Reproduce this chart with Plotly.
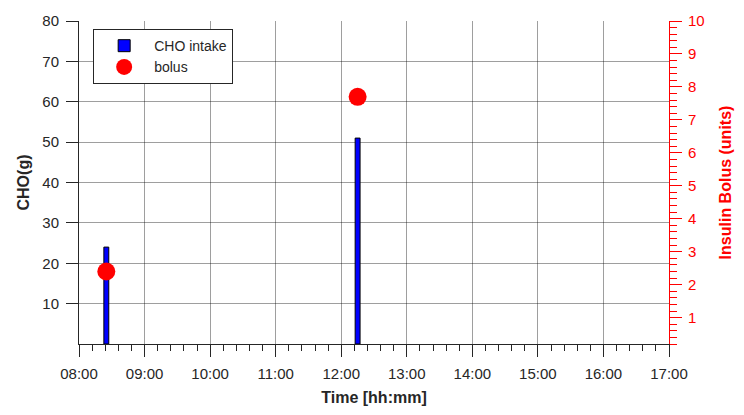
import plotly.graph_objects as go

# Data
cho_times = ["2020-01-01 08:25", "2020-01-01 12:15"]
cho_values = [24, 51]
bolus_times = ["2020-01-01 08:25", "2020-01-01 12:15"]
bolus_values = [2.4, 7.7]

x_range = ["2020-01-01 08:00", "2020-01-01 17:00"]
left_range = [0, 80]
right_range = [0.2, 10]

FONT = "Liberation Sans, Arial, sans-serif"
TXT = "#262626"
GRID = "rgba(0,0,0,0.38)"

fig = go.Figure()
fig.add_trace(go.Bar(
    x=cho_times, y=cho_values, name="CHO intake",
    width=4.5 * 60 * 1000,
    marker=dict(color="#0000ff", line=dict(color="black", width=1)),
    yaxis="y",
))
fig.add_trace(go.Scatter(
    x=bolus_times, y=bolus_values, name="bolus", mode="markers",
    marker=dict(color="#ff0000", size=18, line=dict(width=0)),
    yaxis="y2",
))

fig.update_layout(
    width=744, height=415,
    margin=dict(l=79, r=73, t=13, b=70),
    paper_bgcolor="white", plot_bgcolor="white",
    font=dict(family=FONT, size=15, color=TXT),
    showlegend=True,
    legend=dict(
        x=0.024, y=0.975, xanchor="left", yanchor="top",
        bgcolor="white", bordercolor="#262626", borderwidth=1,
        font=dict(size=14, color=TXT), tracegroupgap=0,
        itemwidth=50,
    ),
    xaxis=dict(
        type="date", range=x_range, dtick=3600000, tickformat="%H:%M",
        showgrid=True, gridcolor=GRID, gridwidth=1,
        showline=True, linecolor=TXT, linewidth=1,
        ticks="outside", ticklen=12, tickcolor=TXT, tickwidth=1,
        minor=dict(dtick=12 * 60 * 1000, ticks="outside", ticklen=6,
                   tickcolor=TXT, showgrid=False),
        tickfont=dict(size=15, color=TXT), ticklabelstandoff=4,
        title=dict(text="<b>Time [hh:mm]</b>", font=dict(size=16, color=TXT), standoff=10),
        zeroline=False,
    ),
    yaxis=dict(
        range=left_range, tickvals=[10, 20, 30, 40, 50, 60, 70, 80],
        showgrid=True, gridcolor=GRID, gridwidth=1,
        showline=True, linecolor=TXT, linewidth=1,
        ticks="outside", ticklen=12, tickcolor=TXT, tickwidth=1,
        tickfont=dict(size=15, color=TXT), ticklabelstandoff=4,
        title=dict(text="<b>CHO(g)</b>", font=dict(size=16, color=TXT), standoff=8),
        zeroline=False,
    ),
    yaxis2=dict(
        range=right_range, overlaying="y", side="right",
        tickvals=[1, 2, 3, 4, 5, 6, 7, 8, 9, 10],
        showgrid=False, zeroline=False,
        showline=True, linecolor="#ff0000", linewidth=1,
        ticks="outside", ticklen=12, tickcolor="#ff0000", tickwidth=1,
        minor=dict(tickvals=[round(0.2 * i, 1) for i in range(1, 51) if i % 5 != 0],
                   ticks="outside", ticklen=7, tickcolor="#ff0000", showgrid=False),
        tickfont=dict(size=15, color="#ff0000"), ticklabelstandoff=3,
        title=dict(text="<b>Insulin Bolus (units)</b>", font=dict(size=16, color="#ff0000"), standoff=16),
    ),
)

fig.write_html("out.html")
